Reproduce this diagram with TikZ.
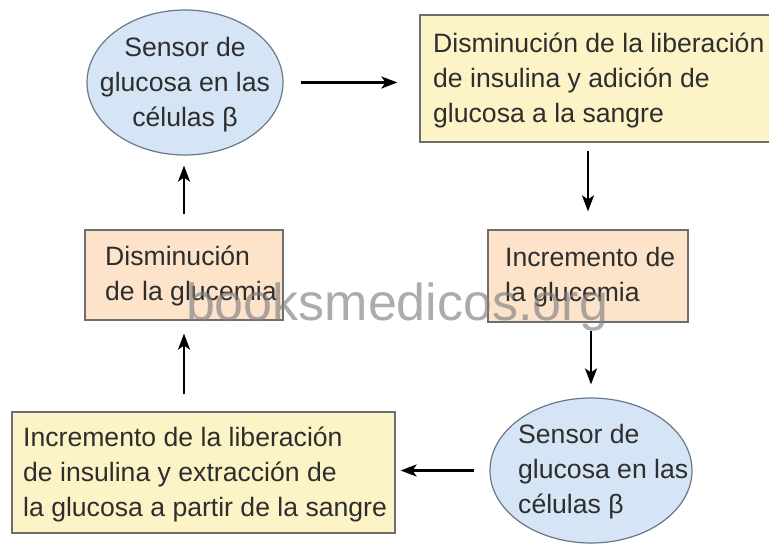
\documentclass[tikz,border=0pt]{standalone}
\usepackage{fontspec}
\setmainfont{Liberation Sans}
\usetikzlibrary{arrows.meta,shapes.geometric}
\definecolor{txt}{HTML}{2E2E2E}
\definecolor{bluefill}{HTML}{D5E5F5}
\definecolor{blueline}{HTML}{6A7886}
\definecolor{yelfill}{HTML}{FCF3C6}
\definecolor{peachfill}{HTML}{FDE3CA}
\definecolor{boxline}{HTML}{6E6E6E}
\tikzset{
  sensor/.style={ellipse, draw=blueline, fill=bluefill, line width=1.2pt, inner sep=0pt},
  ybox/.style={rectangle, draw=boxline, fill=yelfill, line width=1.2pt, inner sep=0pt},
  pbox/.style={rectangle, draw=boxline, fill=peachfill, line width=1.2pt, inner sep=0pt},
  lbl/.style={text=txt, font=\fontsize{26.6}{35}\selectfont, inner sep=0pt},
  arr/.style={draw=black, line width=2.2pt, -{Stealth[length=16pt,width=12pt,inset=4pt]}},
  wmark/.style={text=gray, opacity=0.65, font=\fontsize{52}{60}\selectfont, inner sep=0pt}
}
\begin{document}
\begin{tikzpicture}[x=1pt,y=1pt]
\useasboundingbox (0,-544) rectangle (769,0);
% nodes
\node[sensor, minimum width=196pt, minimum height=145pt] (s1) at (185,-82.5) {};
\node[lbl, align=center] (s1t) at (185,-85) {Sensor de\\glucosa en las\\células β};
\node[ybox, minimum width=350pt, minimum height=127pt] (d1) at (595,-78.5) {};
\node[lbl, align=left, anchor=west] (d1t) at (433,-80) {Disminución de la liberación\\de insulina y adición de\\glucosa a la sangre};
\node[pbox, minimum width=200pt, minimum height=92pt] (i1) at (588,-276) {};
\node[lbl, align=left, anchor=west] (i1t) at (505,-277) {Incremento de\\la glucemia};
\node[sensor, minimum width=202pt, minimum height=145pt] (s2) at (591,-470.5) {};
\node[lbl, align=left, anchor=west] (s2t) at (518,-472) {Sensor de\\glucosa en las\\células β};
\node[ybox, minimum width=383pt, minimum height=121pt] (e1) at (203.5,-472.5) {};
\node[lbl, align=left, anchor=west] (e1t) at (23,-474) {Incremento de la liberación\\de insulina y extracción de\\la glucosa a partir de la sangre};
\node[pbox, minimum width=198pt, minimum height=90pt] (m1) at (184,-275) {};
\node[lbl, align=left, anchor=west] (m1t) at (105,-276) {Disminución\\de la glucemia};
% connectors
\draw[arr, shorten <=17pt, shorten >=22pt] (s1.east) -- (s1.east -| d1.west);
\draw[arr, shorten <=8pt, shorten >=18pt] (d1.south -| i1.north) -- (i1.north);
\draw[arr, shorten <=8pt, shorten >=13pt] (i1.south -| s2.north) -- (s2.north);
\draw[arr, shorten <=15pt, shorten >=5pt] (s2.west) -- (s2.west -| e1.east);
\draw[arr, shorten <=17pt, shorten >=13pt] (e1.north -| m1.south) -- (m1.south);
\draw[arr, shorten <=15pt, shorten >=10pt] (m1.north) -- (m1.north |- s1.south);
% watermark
\node[wmark, anchor=base] (wm) at (397,-320) {booksmedicos.org};
\end{tikzpicture}
\end{document}
